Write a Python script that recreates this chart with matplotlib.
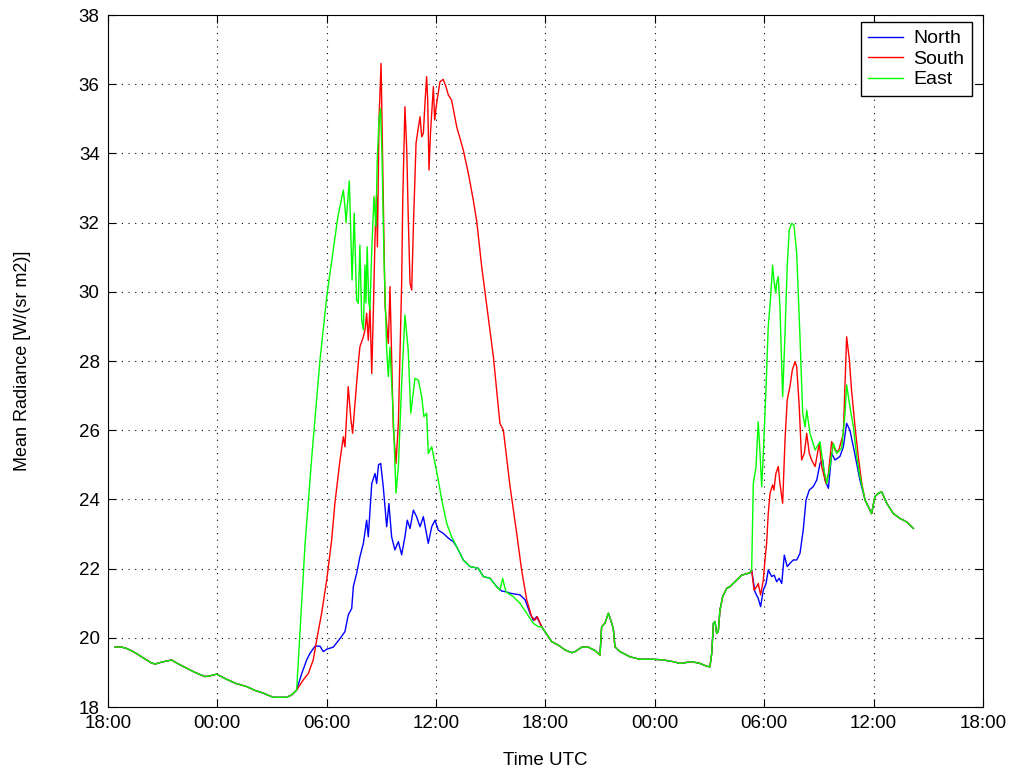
import numpy as np
import matplotlib.pyplot as plt

# hours since 18:00 UTC on the first day, radiance in W/(sr m2)
night1_t = [0.38, 0.66, 0.99, 1.39, 1.76, 2.12, 2.36, 2.58, 2.96, 3.49, 3.84, 4.32, 4.77,
            5.32, 5.60, 5.96, 6.51, 7.02, 7.61, 8.06, 8.52, 9.07, 9.44, 9.80, 10.08, 10.35]
night1_v = [19.73, 19.74, 19.70, 19.60, 19.48, 19.36, 19.28, 19.24, 19.30, 19.36, 19.25, 19.12, 19.00,
            18.88, 18.90, 18.95, 18.80, 18.68, 18.59, 18.48, 18.40, 18.28, 18.28, 18.28, 18.35, 18.49]

north1_t = [10.63, 10.90, 11.08, 11.36, 11.63, 11.81, 12.00, 12.36, 12.73, 13.00, 13.18, 13.37,
            13.46, 13.64, 13.82, 14.01, 14.19, 14.28, 14.47, 14.65, 14.74, 14.84, 14.96, 15.10,
            15.29, 15.41, 15.56, 15.74, 15.93, 16.11, 16.29, 16.42, 16.57, 16.75, 16.93, 17.12,
            17.30, 17.44, 17.57, 17.76, 17.94, 18.12, 18.39, 18.67, 18.94, 19.13, 19.49, 19.86,
            20.31, 20.59, 20.96, 21.32, 21.61, 21.83, 22.05, 22.60, 22.88, 23.15, 23.33, 23.52, 23.79]
north1_v = [18.97, 19.36, 19.55, 19.76, 19.76, 19.60, 19.67, 19.73, 19.98, 20.18, 20.66, 20.85,
            21.48, 21.86, 22.34, 22.73, 23.40, 22.92, 24.46, 24.75, 24.46, 25.00, 25.04, 24.37,
            23.21, 23.88, 22.92, 22.54, 22.78, 22.40, 22.92, 23.40, 23.16, 23.69, 23.50, 23.21,
            23.50, 23.10, 22.73, 23.21, 23.40, 23.11, 23.02, 22.88, 22.78, 22.63, 22.25, 22.06,
            22.01, 21.77, 21.72, 21.48, 21.35, 21.33, 21.29, 21.24, 21.10, 20.71, 20.51, 20.61, 20.32]

south1_t = [10.71, 10.99, 11.26, 11.45, 11.72, 12.00, 12.27, 12.45, 12.73, 12.91, 13.00, 13.18,
            13.33, 13.42, 13.55, 13.73, 13.82, 14.01, 14.10, 14.19, 14.28, 14.37, 14.47, 14.56,
            14.65, 14.73, 14.78, 14.87, 14.98, 15.06, 15.20, 15.38, 15.47, 15.65, 15.80, 15.93,
            16.11, 16.17, 16.29, 16.39, 16.47, 16.57, 16.66, 16.76, 16.90, 17.02, 17.12, 17.21,
            17.30, 17.39, 17.48, 17.54, 17.61, 17.70, 17.85, 17.92, 18.03, 18.21, 18.39, 18.54,
            18.67, 18.85, 19.13, 19.49, 19.77, 20.04, 20.23, 20.50, 20.86, 21.14, 21.50, 21.69,
            22.05, 22.42, 22.69, 22.97, 23.24, 23.42, 23.55, 23.79]
south1_v = [18.78, 18.97, 19.36, 19.94, 20.71, 21.67, 22.83, 23.90, 25.14, 25.81, 25.52, 27.26,
            26.29, 25.91, 26.78, 27.93, 28.41, 28.70, 28.90, 29.38, 28.60, 29.57, 27.64, 29.50,
            31.59, 32.80, 31.30, 35.00, 36.60, 34.00, 29.57, 28.51, 30.15, 26.10, 25.04, 26.20,
            30.25, 32.65, 35.35, 34.10, 32.20, 30.25, 30.05, 32.00, 34.30, 34.73, 35.06, 34.48,
            34.58, 35.45, 36.22, 35.54, 33.52, 34.68, 35.93, 34.97, 35.45, 36.07, 36.14, 35.93,
            35.69, 35.54, 34.77, 34.10, 33.42, 32.65, 32.03, 30.73, 29.28, 28.13, 26.20, 26.00,
            24.40, 23.02, 21.96, 21.10, 20.61, 20.51, 20.61, 20.32]

east1_t = [10.81, 11.19, 11.63, 12.01, 12.36, 12.62, 12.91, 13.00, 13.06, 13.24, 13.33, 13.39,
           13.51, 13.55, 13.64, 13.73, 13.82, 13.92, 14.01, 14.10, 14.15, 14.22, 14.30, 14.37,
           14.47, 14.59, 14.70, 14.77, 14.87, 14.95, 15.03, 15.14, 15.29, 15.38, 15.47, 15.65,
           15.80, 15.93, 16.11, 16.29, 16.47, 16.61, 16.84, 17.02, 17.21, 17.33, 17.48, 17.57,
           17.76, 17.94, 18.12, 18.31, 18.58, 18.85, 19.13, 19.49, 19.86, 20.31, 20.59, 20.96,
           21.32, 21.50, 21.65, 21.83, 22.23, 22.60, 22.97, 23.33, 23.61, 23.79]
east1_v = [22.70, 25.30, 28.03, 29.90, 31.21, 32.20, 32.94, 32.46, 32.00, 33.21, 31.50, 30.34,
           32.27, 31.40, 29.76, 29.67, 31.35, 29.18, 28.90, 30.77, 29.68, 31.30, 29.76, 29.47,
           31.20, 32.75, 31.88, 33.80, 35.00, 35.30, 34.00, 31.00, 28.30, 27.55, 28.40, 26.39,
           24.18, 24.95, 27.35, 29.33, 28.32, 26.49, 27.50, 27.45, 26.97, 26.39, 26.49, 25.33,
           25.52, 25.04, 24.56, 23.98, 23.31, 22.92, 22.63, 22.25, 22.06, 22.01, 21.77, 21.72,
           21.48, 21.38, 21.72, 21.33, 21.19, 21.00, 20.71, 20.42, 20.32, 20.32]

night2_t = [23.97, 24.34, 24.70, 25.07, 25.44, 25.62, 25.99, 26.35, 26.72, 26.99, 27.08, 27.26,
            27.45, 27.58, 27.72, 27.81, 28.09, 28.64, 29.18, 29.91, 30.46, 31.01, 31.38, 32.02,
            32.47, 32.84, 33.02, 33.12, 33.21, 33.30, 33.39, 33.48, 33.57, 33.72, 33.94, 34.12,
            34.49, 34.76, 35.22, 35.31]
night2_v = [20.18, 19.89, 19.79, 19.65, 19.57, 19.60, 19.73, 19.73, 19.63, 19.50, 20.32, 20.42,
            20.71, 20.51, 20.27, 19.74, 19.60, 19.45, 19.38, 19.38, 19.36, 19.31, 19.26, 19.31,
            19.26, 19.18, 19.16, 19.55, 20.42, 20.47, 20.13, 20.18, 20.80, 21.19, 21.43, 21.48,
            21.67, 21.81, 21.88, 21.96]

north2_t = [35.49, 35.67, 35.80, 35.95, 36.10, 36.22, 36.41, 36.55, 36.68, 36.82, 36.96, 37.10,
            37.26, 37.41, 37.59, 37.78, 37.96, 38.14, 38.29, 38.47, 38.69, 38.88, 39.06, 39.21,
            39.33, 39.52, 39.70, 39.88, 40.15, 40.34, 40.52, 40.70, 40.89, 41.07, 41.25, 41.53, 41.71]
north2_v = [21.33, 21.14, 20.90, 21.38, 21.57, 21.96, 21.77, 21.81, 21.62, 21.72, 21.57, 22.39,
            22.06, 22.15, 22.25, 22.25, 22.44, 23.12, 23.98, 24.27, 24.37, 24.56, 25.04, 25.14,
            24.56, 24.32, 25.33, 25.14, 25.24, 25.52, 26.20, 26.00, 25.52, 25.04, 24.56, 23.98, 23.79]

south2_t = [35.44, 35.59, 35.67, 35.80, 35.95, 36.04, 36.13, 36.22, 36.32, 36.46, 36.53, 36.64,
            36.77, 36.86, 37.01, 37.14, 37.26, 37.41, 37.54, 37.69, 37.78, 37.92, 38.05, 38.20,
            38.33, 38.47, 38.60, 38.79, 39.02, 39.15, 39.39, 39.52, 39.70, 39.88, 40.07, 40.34,
            40.52, 40.67, 40.79, 40.98, 41.16, 41.35, 41.53, 41.71]
south2_v = [21.38, 21.48, 21.57, 21.24, 21.67, 22.25, 22.73, 23.59, 24.18, 24.42, 24.27, 24.75,
            24.95, 24.46, 23.89, 25.72, 26.87, 27.26, 27.74, 27.98, 27.84, 26.68, 25.14, 25.33,
            25.91, 25.33, 25.14, 24.95, 25.62, 24.95, 24.46, 24.75, 25.67, 25.43, 25.38, 25.91,
            28.70, 28.03, 27.16, 26.10, 25.24, 24.46, 23.98, 23.79]

east2_t = [35.40, 35.55, 35.67, 35.77, 35.86, 35.95, 36.08, 36.22, 36.35, 36.46, 36.53, 36.63,
           36.68, 36.77, 36.86, 37.01, 37.14, 37.26, 37.37, 37.51, 37.63, 37.78, 37.96, 38.11,
           38.24, 38.33, 38.51, 38.79, 39.06, 39.24, 39.43, 39.61, 39.79, 39.97, 40.25, 40.43,
           40.52, 40.70, 40.89, 41.07, 41.25, 41.53, 41.71]
east2_v = [24.46, 24.95, 26.24, 25.33, 24.37, 25.33, 26.97, 28.99, 29.86, 30.77, 30.34, 29.96,
           30.25, 30.44, 29.57, 26.97, 28.80, 30.73, 31.79, 31.98, 31.93, 31.11, 28.70, 26.49,
           26.10, 26.58, 25.91, 25.43, 25.67, 24.95, 24.46, 24.95, 25.62, 25.33, 25.48, 26.49,
           27.31, 26.68, 26.10, 25.24, 24.66, 23.98, 23.79]

tail_t = [41.89, 42.07, 42.26, 42.44, 42.72, 43.08, 43.45, 43.81, 44.18]
tail_v = [23.59, 24.08, 24.18, 24.22, 23.89, 23.59, 23.45, 23.35, 23.16]

tick_labels = ["18:00", "00:00", "06:00", "12:00", "18:00", "00:00", "06:00", "12:00", "18:00"]


def join(*parts):
    return np.concatenate([np.asarray(p, dtype=float) for p in parts])


series = {
    "North": (join(night1_t, north1_t, night2_t, north2_t, tail_t),
              join(night1_v, north1_v, night2_v, north2_v, tail_v), "#0000ff"),
    "South": (join(night1_t, south1_t, night2_t, south2_t, tail_t),
              join(night1_v, south1_v, night2_v, south2_v, tail_v), "#ff0000"),
    "East": (join(night1_t, east1_t, night2_t, east2_t, tail_t),
             join(night1_v, east1_v, night2_v, east2_v, tail_v), "#00ff00"),
}

plt.rcParams["font.family"] = ["Liberation Sans", "DejaVu Sans"]
plt.rcParams["font.size"] = 13.5

fig = plt.figure(figsize=(10.11, 7.71), dpi=100)
ax = fig.add_axes([0.1068, 0.083, 0.8655, 0.8975])

for name, (t, v, c) in series.items():
    ax.plot(t, v, color=c, lw=1.0, label=name)

ax.set_xlim(0, 48)
ax.set_ylim(18, 38)
ax.set_xticks(np.arange(0, 49, 6))
ax.set_xticklabels(tick_labels)
ax.set_yticks(np.arange(18, 39, 2))
ax.grid(True, color="black", linestyle=(0, (1, 5)), linewidth=0.8)
ax.tick_params(direction="in", length=6, top=True, right=True, width=0.8, pad=6)
for s in ax.spines.values():
    s.set_linewidth(0.8)

ax.set_xlabel("Time UTC", labelpad=14)
ax.set_ylabel("Mean Radiance [W/(sr m2)]", fontsize=13, labelpad=34)

leg = ax.legend(loc="upper right", bbox_to_anchor=(0.9874, 0.9899), borderaxespad=0,
                fancybox=False, framealpha=1, edgecolor="black", fontsize=14,
                handlelength=1.8, handletextpad=0.5, labelspacing=0.15, borderpad=0.4)
leg.get_frame().set_linewidth(1.0)

fig.savefig("out.png", dpi=100)
